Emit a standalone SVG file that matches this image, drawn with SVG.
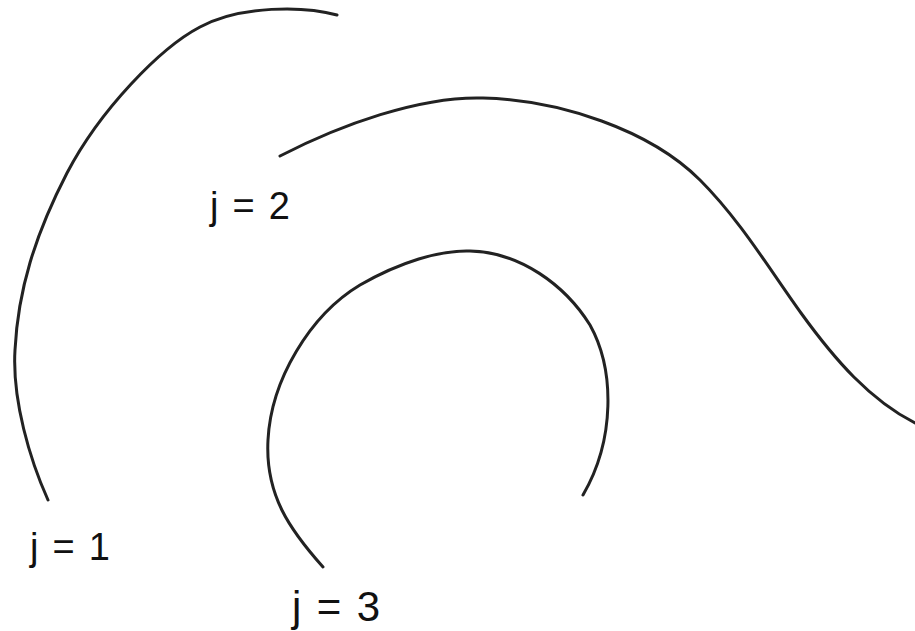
<svg xmlns="http://www.w3.org/2000/svg" width="915" height="631" viewBox="0 0 915 631">
<style>
.c{fill:none;stroke:#222;stroke-width:3;stroke-linecap:round}
.t{font-family:"Liberation Sans","Open Sans",sans-serif;fill:#111}
</style>
<rect width="915" height="631" fill="#fff"/>
<g id="curves">
<path id="curve1" class="c" d="M337,15 C305,6 240,5 200,27 C160,48 100,110 67,173 C35,235 18,290 15,350 C12,400 30,460 48,500"/>
<path id="curve2" class="c" d="M280,156 C340,125 420,96 483,98 C560,100 650,130 700,180 C740,220 770,270 801,313 C835,360 870,400 915,423"/>
<path id="curve3" class="c" d="M323,567 C290,530 265,495 268,440 C271,380 310,315 360,285 C400,262 440,250 470,251 C520,252 565,285 590,325 C615,370 615,440 583,495"/>
</g>
<g id="label1"><text class="t" x="30" y="560" font-size="38" textLength="80" lengthAdjust="spacing">j = 1</text></g>
<g id="label2"><text class="t" x="210" y="219" font-size="38" textLength="80" lengthAdjust="spacing">j = 2</text></g>
<g id="label3"><text class="t" x="292" y="621" font-size="42" textLength="88" lengthAdjust="spacing">j = 3</text></g>
</svg>
